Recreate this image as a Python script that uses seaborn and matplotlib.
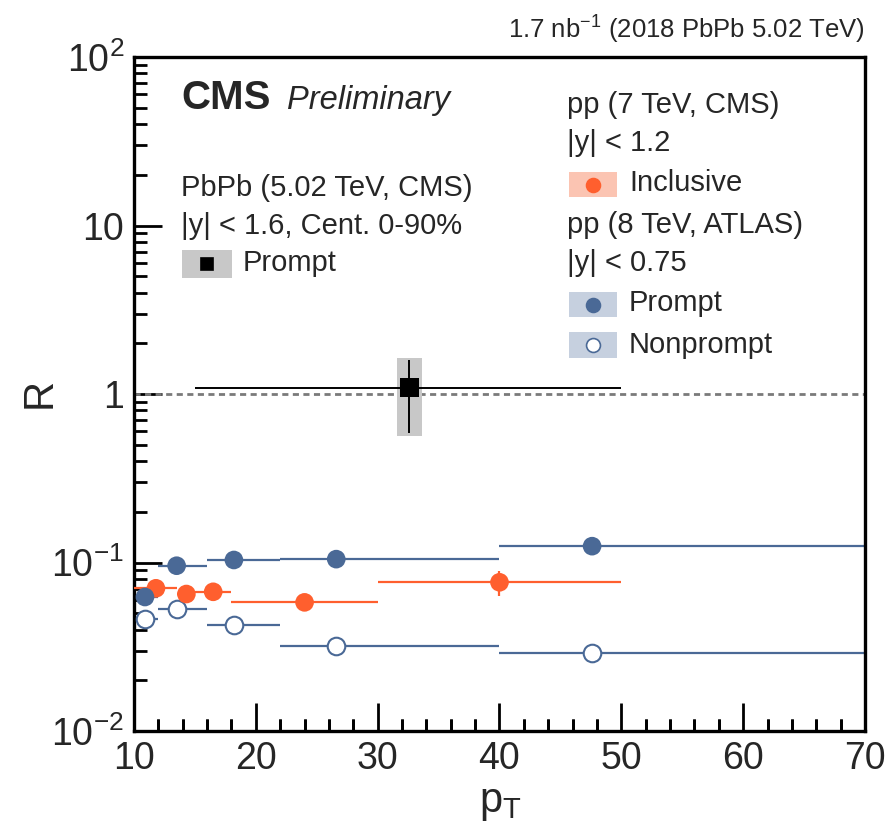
import numpy as np
import pandas as pd
import matplotlib
matplotlib.use("Agg")
import matplotlib.pyplot as plt
from matplotlib.patches import Rectangle
from matplotlib.ticker import NullFormatter, LogLocator
import seaborn as sns

sns.set_theme(style="ticks")
plt.rcParams['font.family'] = ['Liberation Sans', 'DejaVu Sans']
plt.rcParams['mathtext.fontset'] = 'custom'
plt.rcParams['mathtext.rm'] = 'Liberation Sans'
plt.rcParams['mathtext.it'] = 'Liberation Sans:italic'
plt.rcParams['mathtext.bf'] = 'Liberation Sans:bold'

# ---------------- data ----------------
pbpb_x = [32.6]
pbpb_y = [1.09]
pbpb_xlo = [15.0]
pbpb_xhi = [50.0]
pbpb_ylo = [0.587]
pbpb_yhi = [1.59]
pbpb_syst_lo = [0.56]
pbpb_syst_hi = [1.64]

cms_x = [11.8, 14.3, 16.5, 24.0, 40.0]
cms_y = [0.0703, 0.065, 0.067, 0.058, 0.0763]
cms_xlo = [10.0, 13.5, 15.0, 18.0, 30.0]
cms_xhi = [13.5, 15.0, 18.0, 30.0, 50.0]
cms_ylo = [0.067, 0.0625, 0.0645, 0.0565, 0.063]
cms_yhi = [0.0735, 0.0675, 0.0695, 0.0595, 0.0887]

atlas_x = [10.9, 13.5, 18.2, 26.6, 47.6]
atlas_xlo = [10.0, 12.0, 16.0, 22.0, 40.0]
atlas_xhi = [12.0, 16.0, 22.0, 40.0, 70.0]
atlas_prompt_y = [0.0624, 0.0957, 0.1035, 0.1047, 0.125]
atlas_nonprompt_y = [0.046, 0.0528, 0.0426, 0.0319, 0.0289]

x_ticks = [10, 20, 30, 40, 50, 60, 70]
x_minor = [v for v in range(12, 70, 2) if v % 10 != 0]
y_ticks = [1e-2, 1e-1, 1, 10, 100]
y_ticklabels = [r"$10^{-2}$", r"$10^{-1}$", "1", "10", r"$10^{2}$"]

c_orange = "#ff5f2e"
c_orange_box = "#fbc4b2"
c_blue = "#4a6996"
c_blue_box = "#c6d0df"
c_gray_box = "#c8c8c8"

fig = plt.figure(figsize=(8.87, 8.33), dpi=100)
rect = [134/887, 1-731/833, (865-134)/887, (731-57)/833]
ax = fig.add_axes(rect)

df_np = pd.DataFrame({"x": atlas_x, "y": atlas_nonprompt_y})
df_p = pd.DataFrame({"x": atlas_x, "y": atlas_prompt_y})
df_c = pd.DataFrame({"x": cms_x, "y": cms_y})
df_pb = pd.DataFrame({"x": pbpb_x, "y": pbpb_y})

sns.scatterplot(data=df_np, x="x", y="y", ax=ax, s=160, marker="o", facecolor="white",
                edgecolor=c_blue, linewidth=1.5, zorder=5, clip_on=False)
sns.scatterplot(data=df_c, x="x", y="y", ax=ax, s=180, marker="o", color=c_orange,
                edgecolor="none", linewidth=0, zorder=5, clip_on=False)
sns.scatterplot(data=df_p, x="x", y="y", ax=ax, s=180, marker="o", color=c_blue,
                edgecolor="none", linewidth=0, zorder=6, clip_on=False)
sns.scatterplot(data=df_pb, x="x", y="y", ax=ax, s=180, marker="s", color="black",
                edgecolor="none", linewidth=0, zorder=7)

ax.set_yscale("log")
ax.set_xlim(10, 70)
ax.set_ylim(1e-2, 1e2)

ax.axhline(1.0, color="#7a7a7a", lw=2.0, ls=(0, (2.2, 1.6)), zorder=1)

def xerrs(x, lo, hi):
    x = np.asarray(x); return np.vstack([x - np.asarray(lo), np.asarray(hi) - x])

ax.errorbar(atlas_x, atlas_nonprompt_y, xerr=xerrs(atlas_x, atlas_xlo, atlas_xhi),
            fmt="none", ecolor=c_blue, elinewidth=1.6, capsize=0, zorder=2)
ax.errorbar(atlas_x, atlas_prompt_y, xerr=xerrs(atlas_x, atlas_xlo, atlas_xhi),
            fmt="none", ecolor=c_blue, elinewidth=1.6, capsize=0, zorder=2)
ax.errorbar(cms_x, cms_y, xerr=xerrs(cms_x, cms_xlo, cms_xhi),
            yerr=np.vstack([np.array(cms_y) - np.array(cms_ylo), np.array(cms_yhi) - np.array(cms_y)]),
            fmt="none", ecolor=c_orange, elinewidth=1.6, capsize=0, zorder=3)
for x, lo, hi in zip(pbpb_x, pbpb_syst_lo, pbpb_syst_hi):
    ax.add_patch(Rectangle((x - 1.05, lo), 2.1, hi - lo, facecolor=c_gray_box, edgecolor="none", zorder=2))
ax.errorbar(pbpb_x, pbpb_y, xerr=xerrs(pbpb_x, pbpb_xlo, pbpb_xhi),
            yerr=np.vstack([np.array(pbpb_y) - np.array(pbpb_ylo), np.array(pbpb_yhi) - np.array(pbpb_y)]),
            fmt="none", ecolor="black", elinewidth=1.4, capsize=0, zorder=4)

# ---------------- axes styling ----------------
ax.set_xlabel("")
ax.set_ylabel("")
for sp in ax.spines.values():
    sp.set_linewidth(2.4)
    sp.set_color("black")
ax.set_xticks(x_ticks)
ax.set_xticks(x_minor, minor=True)
ax.set_xticklabels([str(t) for t in x_ticks])
ax.set_yticks(y_ticks)
ax.set_yticklabels(y_ticklabels)
ax.yaxis.set_minor_locator(LogLocator(base=10, subs=np.arange(2, 10)))
ax.yaxis.set_minor_formatter(NullFormatter())
ax.tick_params(axis="both", which="major", direction="in", length=20, width=2.0, labelsize=27,
               top=False, right=False, color="black")
ax.tick_params(axis="both", which="minor", direction="in", length=9, width=2.0,
               top=False, right=False, bottom=True, left=True, color="black")
ax.tick_params(axis="x", which="major", pad=7)
ax.tick_params(axis="y", which="major", pad=7)

# short minor tick marks along the bottom edge (x in data units, y in axes fraction)
ax.vlines(x_minor, 0, 12.5 / 674, transform=ax.get_xaxis_transform(),
          colors="black", linewidth=2.0, zorder=10, clip_on=False)

fig.text(40/887, 1-393/833, "R", rotation=90, fontsize=30, ha="center", va="center")
fig.text(500/887, 1-803/833, r"p$_{\mathrm{T}}$", fontsize=30, ha="center", va="center")
fig.text(865/887, 1-30/833, r"1.7 nb$^{-1}$ (2018 PbPb 5.02 TeV)", fontsize=18.5,
         ha="right", va="center")

fig.text(181/887, 1-98/833, "CMS", fontsize=29, fontweight="bold", ha="left", va="center")
fig.text(287/887, 1-100/833, "Preliminary", fontsize=23.5, fontstyle="italic", ha="left", va="center")

fs = 21
def ftxt(x, y, s):
    fig.text(x/887, 1-y/833, s, fontsize=fs, ha="left", va="center")

def legbox(x0, y0, x1, y1, fc, marker, mfc, mec, ms):
    fig.patches.append(Rectangle((x0/887, 1-y1/833), (x1-x0)/887, (y1-y0)/833,
                                 transform=fig.transFigure, facecolor=fc, edgecolor="none"))
    fig.lines.append(plt.Line2D([(x0+x1)/2/887], [1-(y0+y1)/2/833], marker=marker, ms=ms,
                                markerfacecolor=mfc, markeredgecolor=mec, markeredgewidth=1.2,
                                linestyle="none", transform=fig.transFigure))

ftxt(181, 188, "PbPb (5.02 TeV, CMS)")
ftxt(181, 226, "|y| < 1.6, Cent. 0-90%")
legbox(182, 250, 232, 278, c_gray_box, "s", "black", "black", 9)
ftxt(243, 263, "Prompt")

ftxt(567, 105, "pp (7 TeV, CMS)")
ftxt(567, 143, "|y| < 1.2")
legbox(569, 172, 617, 197, c_orange_box, "o", c_orange, c_orange, 10)
ftxt(629, 183, "Inclusive")
ftxt(567, 225, "pp (8 TeV, ATLAS)")
ftxt(567, 263, "|y| < 0.75")
legbox(569, 292, 617, 317, c_blue_box, "o", c_blue, c_blue, 10)
ftxt(629, 303, "Prompt")
legbox(569, 332, 617, 358, c_blue_box, "o", "white", c_blue, 10)
ftxt(629, 345, "Nonprompt")

fig.savefig("out.png", dpi=100)
